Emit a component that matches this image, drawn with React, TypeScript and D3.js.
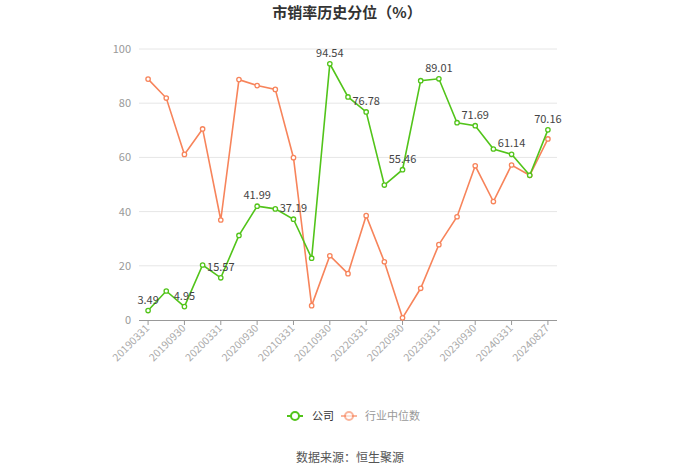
import React from "react";
import * as d3 from "d3";

const categories = [
  "20190331","20190630","20190930","20191231","20200331","20200630","20200930","20201231",
  "20210331","20210630","20210930","20211231","20220331","20220630","20220930","20221231",
  "20230331","20230630","20230930","20231231","20240331","20240630","20240827",
];
const companyValues = [
  3.49, 10.7, 4.95, 20.3, 15.57, 31.2, 41.99, 41.0, 37.19, 22.8, 94.54, 82.3,
  76.78, 49.8, 55.46, 88.3, 89.01, 72.8, 71.69, 63.1, 61.14, 53.4, 70.16,
];
const industryValues = [
  88.9, 81.9, 61.1, 70.5, 36.9, 88.7, 86.5, 85.1, 59.9, 5.3, 23.7, 17.1,
  38.5, 21.5, 0.8, 11.7, 27.8, 38.1, 56.9, 43.7, 57.2, 53.4, 66.8,
];
const yTicks = [0, 20, 40, 60, 80, 100];
const labelIdx = [0, 2, 4, 6, 8, 10, 12, 14, 16, 18, 20, 22];
const seriesNames = ["公司", "行业中位数"];
const title = "市销率历史分位（%）";
const source = "数据来源：恒生聚源";

const GREEN = "#52c41a";
const ORANGE = "#f7845b";
const FONT = "'Noto Sans CJK SC', 'Noto Sans', sans-serif";

export default function App() {
  const W = 700, H = 474;
  const left = 139, right = 557, top = 49, bottom = 320;
  const x = d3.scaleBand<string>().domain(categories).range([left, right]);
  const cx = (c: string) => (x(c) as number) + x.bandwidth() / 2;
  const y = d3.scaleLinear().domain([0, 100]).range([bottom, top]);
  const line = d3.line<number>().x((_, i) => cx(categories[i])).y((d) => y(d));

  const series = [
    { vals: industryValues, color: ORANGE },
    { vals: companyValues, color: GREEN },
  ];

  return (
    <svg width={W} height={H} style={{ position: "absolute", left: 0, top: 0, fontFamily: FONT }}>
      <rect width={W} height={H} fill="#fff" />
      <text x={347} y={18} textAnchor="middle" fontSize={15} fontWeight="bold" fill="#333">{title}</text>
      {yTicks.map((t) => (
        <g key={t}>
          {t > 0 && <line x1={left} x2={right} y1={y(t)} y2={y(t)} stroke="#e6e6e6" />}
          <text x={131} y={y(t) + 4} textAnchor="end" fontSize={11} fill="#999">{t}</text>
        </g>
      ))}
      <line x1={left} x2={right} y1={bottom + 0.5} y2={bottom + 0.5} stroke="#999" />
      {labelIdx.map((i) => {
        const px = cx(categories[i]);
        return (
          <g key={i}>
            <line x1={px} x2={px} y1={bottom} y2={bottom + 5} stroke="#999" />
            <text
              transform={`translate(${px + 2},${bottom + 9}) rotate(-45)`}
              textAnchor="end"
              fontSize={10.5}
              fill="#aaa"
            >
              {categories[i]}
            </text>
          </g>
        );
      })}
      {series.map((s, si) => (
        <g key={si}>
          <path d={line(s.vals) || ""} fill="none" stroke={s.color} strokeWidth={1.6} />
          {s.vals.map((v, i) => (
            <circle key={i} cx={cx(categories[i])} cy={y(v)} r={2.2} fill="#fff" stroke={s.color} strokeWidth={1.3} />
          ))}
        </g>
      ))}
      {labelIdx.map((i) => (
        <text key={i} x={cx(categories[i])} y={y(companyValues[i]) - 7} textAnchor="middle" fontSize={11} fill="#444">
          {companyValues[i].toFixed(2)}
        </text>
      ))}
      <g>
        <line x1={287} x2={303} y1={416} y2={416} stroke={GREEN} strokeWidth={2} />
        <circle cx={295} cy={416} r={4} fill="#fff" stroke={GREEN} strokeWidth={2} />
        <text x={312} y={420} fontSize={11} fill="#333">{seriesNames[0]}</text>
        <line x1={341} x2={357} y1={416} y2={416} stroke={ORANGE} strokeWidth={2} opacity={0.6} />
        <circle cx={349} cy={416} r={4} fill="#fff" stroke={ORANGE} strokeWidth={2} opacity={0.6} />
        <text x={365} y={420} fontSize={11} fill="#999">{seriesNames[1]}</text>
      </g>
      <text x={350} y={462} textAnchor="middle" fontSize={12} fill="#555">{source}</text>
    </svg>
  );
}
